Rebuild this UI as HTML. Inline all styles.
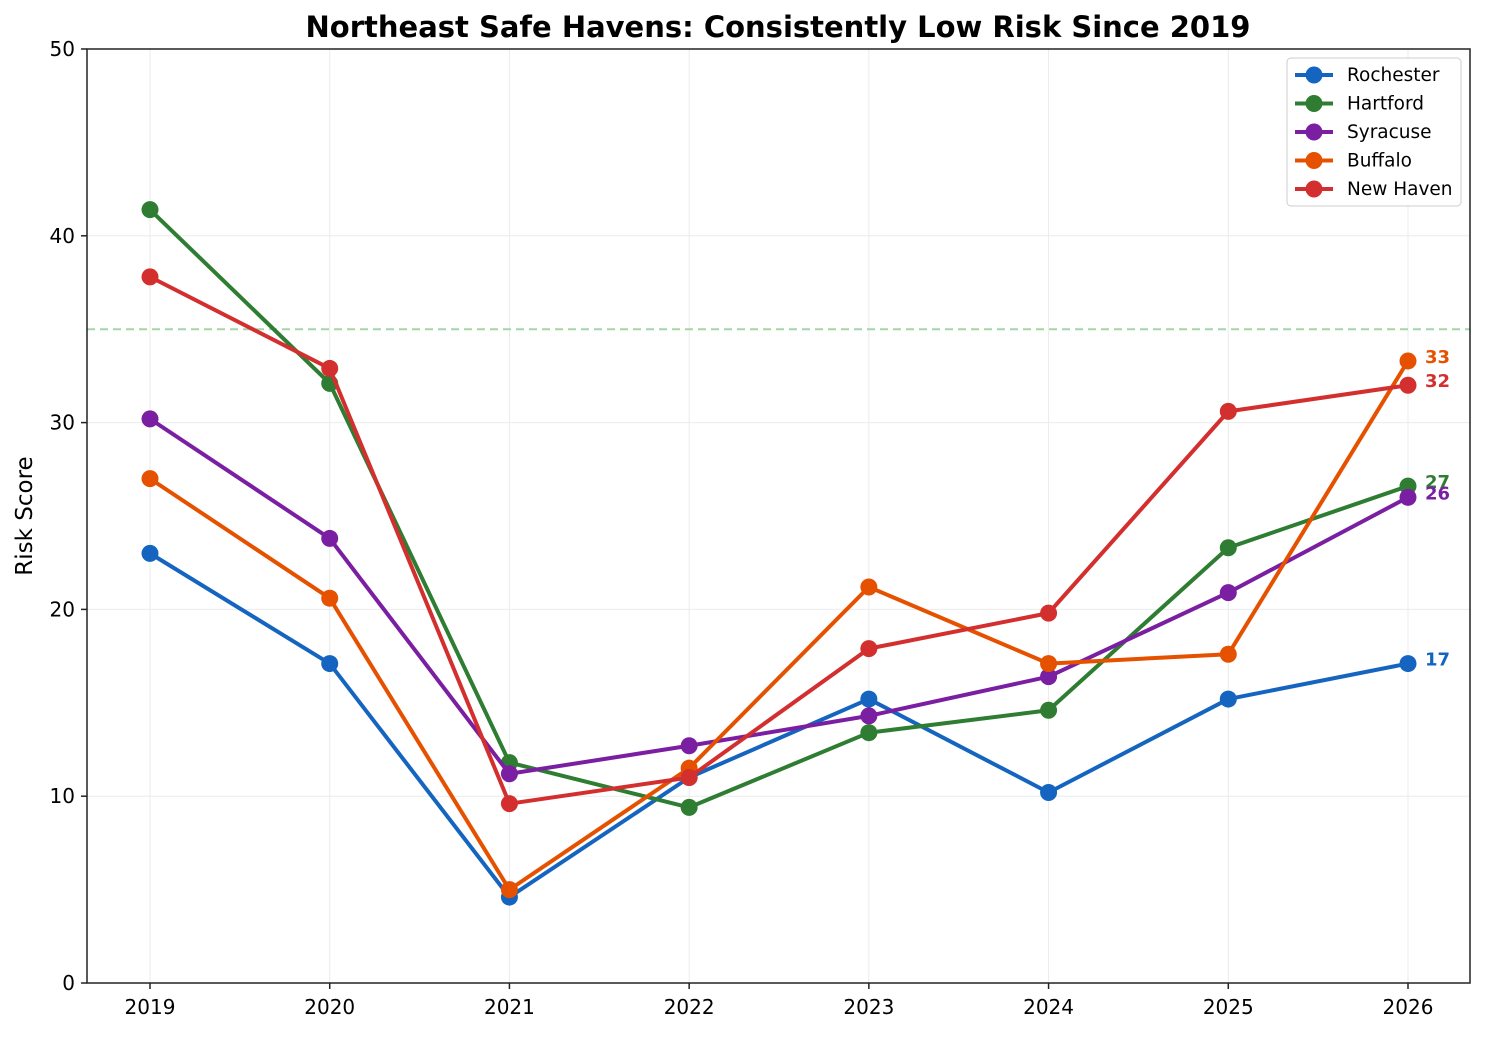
<!DOCTYPE html>
<html><head><meta charset="utf-8">
<style>
body{margin:0;background:#fff;font-family:"Liberation Sans","DejaVu Sans",sans-serif;}
svg text{font-family:"DejaVu Sans","Liberation Sans",sans-serif;}
</style></head>
<body>
<svg id="chart" width="1485" height="1033" xmlns="http://www.w3.org/2000/svg"></svg>
<script>
const years = [2019,2020,2021,2022,2023,2024,2025,2026];
const seriesNames = ["Rochester","Hartford","Syracuse","Buffalo","New Haven"];
const seriesColors = ["#1565c0","#2e7d32","#7b1fa2","#e65100","#d32f2f"];
const rochester = [23.0,17.1,4.6,11.0,15.2,10.2,15.2,17.1];
const hartford = [41.4,32.1,11.8,9.4,13.4,14.6,23.3,26.6];
const syracuse = [30.2,23.8,11.2,12.7,14.3,16.4,20.9,26.0];
const buffalo = [27.0,20.6,5.0,11.5,21.2,17.1,17.6,33.3];
const newHaven = [37.8,32.9,9.6,11.0,17.9,19.8,30.6,32.0];
const yTicks = [0,10,20,30,40,50];
const threshold = 35;

const series = [rochester,hartford,syracuse,buffalo,newHaven];
const L=87,R=1470,T=49,B=983;
const x = i => 150 + i*(1408-150)/(years.length-1);
const y = v => B - (v/50)*(B-T);
const svg = document.getElementById('chart');
const NS="http://www.w3.org/2000/svg";
function mk(tag, attrs, parent){const e=document.createElementNS(NS,tag);for(const k in attrs)e.setAttribute(k,attrs[k]);(parent||svg).appendChild(e);return e;}

years.forEach((yr,i)=>{const g=mk('line',{x1:x(i),x2:x(i),y1:T,y2:B,stroke:'#ebebeb','stroke-width':1});

});
yTicks.forEach(v=>{const g=mk('line',{x1:L,x2:R,y1:y(v),y2:y(v),stroke:'#ebebeb','stroke-width':1});

});
const th=mk('line',{x1:L,x2:R,y1:y(threshold),y2:y(threshold),stroke:'#a5d6a7','stroke-width':2,'stroke-dasharray':'8,5'});


const ax=mk('rect',{x:L,y:T,width:R-L,height:B-T,fill:'none',stroke:'#222','stroke-width':1.5});


years.forEach((yr,i)=>{mk('line',{x1:x(i),x2:x(i),y1:B,y2:B+6,stroke:'#222','stroke-width':1.5});
const t=mk('text',{x:x(i),y:B+31,'text-anchor':'middle','font-size':20});t.textContent=yr;

});
yTicks.forEach(v=>{mk('line',{x1:L-6,x2:L,y1:y(v),y2:y(v),stroke:'#222','stroke-width':1.5});
const t=mk('text',{x:L-12,y:y(v)+7,'text-anchor':'end','font-size':20});t.textContent=v;

});
const yt=mk('text',{x:32,y:516,'text-anchor':'middle','font-size':23,transform:'rotate(-90 32 516)'});yt.textContent='Risk Score';


const title=mk('text',{x:778,y:37,'text-anchor':'middle','font-size':29,'font-weight':'bold'});title.textContent='Northeast Safe Havens: Consistently Low Risk Since 2019';



series.forEach((data,s)=>{
  const g=mk('g',{});
  
  
  const pts=data.map((v,i)=>x(i)+','+y(v)).join(' ');
  mk('polyline',{points:pts,fill:'none',stroke:seriesColors[s],'stroke-width':4,'stroke-linejoin':'round'},g);
  data.forEach((v,i)=>{const c=mk('circle',{cx:x(i),cy:y(v),r:8.5,fill:seriesColors[s]},g);
  
  });
  const last=data[data.length-1];
  const lb=mk('text',{x:x(data.length-1)+17,y:y(last)+2,'font-size':18,'font-weight':'bold',fill:seriesColors[s]},g);
  lb.textContent=Math.round(last);
  
  
});

const lg=mk('g',{});


mk('rect',{x:1287,y:58,width:174,height:148,rx:4,fill:'#fff','fill-opacity':0.9,stroke:'#ccc'},lg);
seriesNames.forEach((n,s)=>{
  const ey=75+s*28.5;
  const e=mk('g',{},lg);
  
  
  mk('line',{x1:1295,x2:1333,y1:ey,y2:ey,stroke:seriesColors[s],'stroke-width':4},e);
  mk('circle',{cx:1314,cy:ey,r:8.5,fill:seriesColors[s]},e);
  const t=mk('text',{x:1347,y:ey+6,'font-size':18.5},e);t.textContent=n;
});
</script>
</body></html>
